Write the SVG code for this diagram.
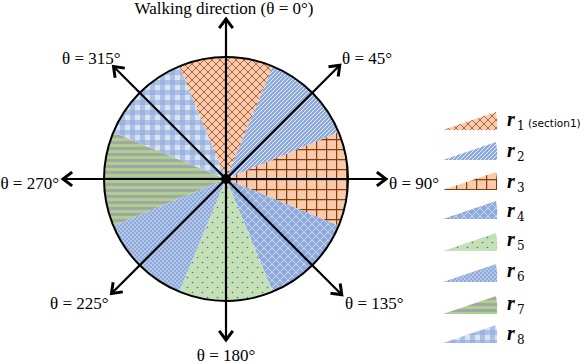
<svg xmlns="http://www.w3.org/2000/svg" width="586" height="364" viewBox="0 0 586 364">
<style>
.lbl{font-family:"Liberation Serif","Times New Roman",serif;font-size:17px;fill:#000}
.r{font-family:"Liberation Serif","Times New Roman",serif;font-size:20px;font-weight:bold;font-style:italic;fill:#000}
.sub{font-family:"DejaVu Serif","Liberation Serif",serif;font-size:12px;fill:#000}
.sec{stroke:none}
.ax{stroke:#000;stroke-width:2.2;fill:none;marker-end:url(#ah)}
</style>
<defs>
<marker id="ah" markerUnits="userSpaceOnUse" markerWidth="16" markerHeight="16" refX="11" refY="7" orient="auto" viewBox="0 0 14 14">
<path d="M3,1 L11,7 L3,13" fill="none" stroke="#000" stroke-width="2.6"/>
</marker>
<pattern id="p1" patternUnits="userSpaceOnUse" width="8" height="8">
<rect width="8" height="8" fill="#F8CBAD"/>
<path d="M0,0 L8,8 M8,0 L0,8" stroke="#A0522D" stroke-width="1" opacity="0.85"/>
</pattern>
<pattern id="p2" patternUnits="userSpaceOnUse" width="4" height="4">
<rect width="4" height="4" fill="#8FAADC"/>
<path d="M0,4 L4,0 M-1,1 L1,-1 M3,5 L5,3" stroke="#fff" stroke-width="0.9" opacity="0.85"/>
</pattern>
<pattern id="p3" patternUnits="userSpaceOnUse" width="10" height="10" x="226" y="179">
<rect width="10" height="10" fill="#F8CBAD"/>
<path d="M0,0.5 H10 M0.5,0 V10" stroke="#843C0C" stroke-width="1.4"/>
</pattern>
<pattern id="p4" patternUnits="userSpaceOnUse" width="8" height="8">
<rect width="8" height="8" fill="#8FAADC"/>
<path d="M0,0 L8,8 M8,0 L0,8" stroke="#fff" stroke-width="1" stroke-dasharray="1,0.8" opacity="0.9"/>
</pattern>
<pattern id="p5" patternUnits="userSpaceOnUse" width="10" height="10">
<rect width="10" height="10" fill="#C5E0B4"/>
<circle cx="2.5" cy="2.5" r="0.8" fill="#2E75B6"/>
<circle cx="7.5" cy="7.5" r="0.8" fill="#2E75B6"/>
</pattern>
<pattern id="p6" patternUnits="userSpaceOnUse" width="4" height="4">
<rect width="4" height="4" fill="#B4C7E7"/>
<rect width="2" height="2" fill="#8FAADC"/>
<rect x="2" y="2" width="2" height="2" fill="#8FAADC"/>
</pattern>
<pattern id="p7" patternUnits="userSpaceOnUse" width="6" height="6">
<rect width="6" height="6" fill="#A9D18E"/>
<rect y="3" width="6" height="3" fill="#A6A6A6"/>
</pattern>
<pattern id="p8" patternUnits="userSpaceOnUse" width="10" height="10">
<rect width="10" height="10" fill="#DAE3F3"/>
<rect x="0" width="5" height="10" fill="#8FAADC" opacity="0.6"/>
<rect y="0" width="10" height="5" fill="#8FAADC" opacity="0.6"/>
</pattern>
</defs>
<g id="sectors">
<g id="sector-r1"><path class="sec" fill="url(#p1)" d="M226,179 L179.31,66.29 A122,122 0 0 1 272.69,66.29 Z"/></g>
<g id="sector-r2"><path class="sec" fill="url(#p2)" d="M226,179 L272.69,66.29 A122,122 0 0 1 338.71,132.31 Z"/></g>
<g id="sector-r3"><path class="sec" fill="url(#p3)" d="M226,179 L338.71,132.31 A122,122 0 0 1 338.71,225.69 Z"/></g>
<g id="sector-r4"><path class="sec" fill="url(#p4)" d="M226,179 L338.71,225.69 A122,122 0 0 1 272.69,291.71 Z"/></g>
<g id="sector-r5"><path class="sec" fill="url(#p5)" d="M226,179 L272.69,291.71 A122,122 0 0 1 179.31,291.71 Z"/></g>
<g id="sector-r6"><path class="sec" fill="url(#p6)" d="M226,179 L179.31,291.71 A122,122 0 0 1 113.29,225.69 Z"/></g>
<g id="sector-r7"><path class="sec" fill="url(#p7)" d="M226,179 L113.29,225.69 A122,122 0 0 1 113.29,132.31 Z"/></g>
<g id="sector-r8"><path class="sec" fill="url(#p8)" d="M226,179 L113.29,132.31 A122,122 0 0 1 179.31,66.29 Z"/></g>
<circle cx="226" cy="179" r="122" fill="none" stroke="#000" stroke-width="2"/>
</g>
<g id="connectors">
<path class="ax" d="M226,179 L226,19"/>
<path class="ax" d="M226,179 L339.8,65.2"/>
<path class="ax" d="M226,179 L386,179"/>
<path class="ax" d="M226,179 L341.8,294.8"/>
<path class="ax" d="M226,179 L226,340"/>
<path class="ax" d="M226,179 L111.5,293.5"/>
<path class="ax" d="M226,179 L63,179"/>
<path class="ax" d="M226,179 L113.5,66.5"/>
<circle cx="226" cy="179" r="5" fill="#000"/>
</g>
<g id="labels">
<text class="lbl" x="224" y="14" text-anchor="middle">Walking direction (θ = 0°)</text>
<text class="lbl" x="342" y="64">θ = 45°</text>
<text class="lbl" x="62" y="64">θ = 315°</text>
<text class="lbl" x="389" y="189">θ = 90°</text>
<text class="lbl" x="59" y="189" text-anchor="end">θ = 270°</text>
<text class="lbl" x="50" y="309">θ = 225°</text>
<text class="lbl" x="345" y="309">θ = 135°</text>
<text class="lbl" x="226" y="361" text-anchor="middle">θ = 180°</text>
</g>
<g id="legend">
<g id="legend-r1"><path fill="url(#p1)" d="M443,130 L496,112 Q498,121 497,130 Z"/><text class="r" x="507" y="126">r</text><text class="sub" x="517" y="130">1</text><text x="528" y="127" style="font-family:'DejaVu Sans','Noto Sans',sans-serif;font-size:10.5px;fill:#000">(section1)</text></g>
<g id="legend-r2"><path fill="url(#p2)" d="M443,160 L496,142 Q498,151 497,160 Z"/><text class="r" x="507" y="157">r</text><text class="sub" x="517" y="161">2</text></g>
<g id="legend-r3"><path fill="url(#p3)" d="M443,190 L496,172 Q498,181 497,190 Z"/><text class="r" x="507" y="188">r</text><text class="sub" x="517" y="192">3</text></g>
<g id="legend-r4"><path fill="url(#p4)" d="M443,219 L496,201 Q498,210 497,219 Z"/><text class="r" x="507" y="217">r</text><text class="sub" x="517" y="221">4</text></g>
<g id="legend-r5"><path fill="url(#p5)" d="M443,251 L496,233 Q498,242 497,251 Z"/><text class="r" x="507" y="246">r</text><text class="sub" x="517" y="250">5</text></g>
<g id="legend-r6"><path fill="url(#p6)" d="M443,282 L496,264 Q498,273 497,282 Z"/><text class="r" x="507" y="277">r</text><text class="sub" x="517" y="281">6</text></g>
<g id="legend-r7"><path fill="url(#p7)" d="M443,314 L496,296 Q498,305 497,314 Z"/><text class="r" x="507" y="310">r</text><text class="sub" x="517" y="314">7</text></g>
<g id="legend-r8"><path fill="url(#p8)" d="M443,343 L496,325 Q498,334 497,343 Z"/><text class="r" x="507" y="340">r</text><text class="sub" x="517" y="344">8</text></g>
</g>
</svg>
